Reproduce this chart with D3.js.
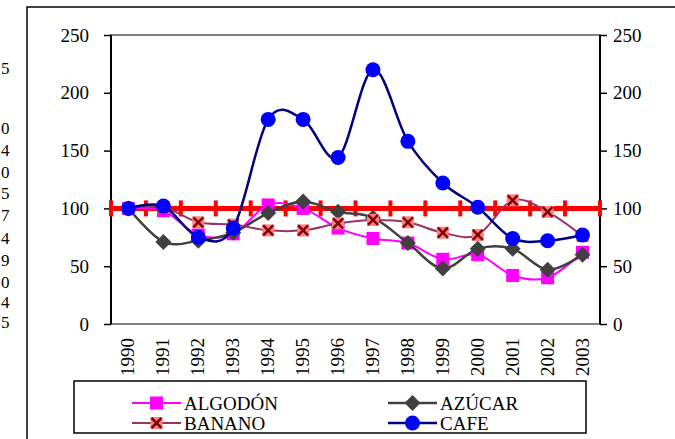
<!DOCTYPE html>
<html>
<head>
<meta charset="utf-8">
<script src="https://cdn.jsdelivr.net/npm/d3@7"></script>
</head>
<body style="margin:0">
<svg id="chart" width="675" height="439"></svg>
<script>
// data
const years = ["1990", "1991", "1992", "1993", "1994", "1995", "1996", "1997", "1998", "1999", "2000", "2001", "2002", "2003"];
const algodon = [100, 98, 77, 78, 103, 100, 83, 74, 70, 56, 60, 42, 40, 62];
const azucar = [100, 71, 72, 79, 96, 106, 97, 92, 70, 48, 65, 65, 47, 60];
const banano = [100, 101, 88, 86, 81, 81, 87, 90, 88, 79, 77, 107, 97, 76];
const cafe = [100, 102, 75, 83, 177, 177, 144, 220, 158, 122, 101, 74, 72, 77];
const baseLine = 100;
const yTicks = [0, 50, 100, 150, 200, 250];
// clipped digits from the neighbouring page at the far left
const leftDigits = ["5", "0", "4", "0", "5", "7", "4", "9", "0", "4", "5"];
const leftDigitY = [68, 128, 150, 172, 193, 215, 238, 260, 282, 302, 322];

const dimensions = {
  width: 675,
  height: 439,
  plot: { left: 111, right: 600, top: 35, bottom: 324 },
};

const svg = d3.select("#chart");

svg.append("rect").attr("width", dimensions.width).attr("height", dimensions.height).attr("fill", "#fff");

// page fragments at the left edge
svg
  .selectAll(".frag")
  .data(leftDigits)
  .enter()
  .append("text")
  .attr("x", 1)
  .attr("y", (d, i) => leftDigitY[i] + 6)
  .attr("font-size", 17)
  .text((d) => d);

// outer frame
svg
  .append("rect")
  .attr("x", 27)
  .attr("y", 7)
  .attr("width", 700)
  .attr("height", 500)
  .attr("fill", "none")
  .attr("stroke", "#000")
  .attr("stroke-width", 1.5);

const p = dimensions.plot;

const xScale = d3.scaleBand().domain(years).range([p.left, p.right]);
const xc = (d) => xScale(d) + xScale.bandwidth() / 2;
const yScale = d3.scaleLinear().domain([0, 250]).range([p.bottom, p.top]);

// plot area top/bottom border
svg
  .append("rect")
  .attr("x", p.left)
  .attr("y", p.top)
  .attr("width", p.right - p.left)
  .attr("height", p.bottom - p.top)
  .attr("fill", "none")
  .attr("stroke", "#808080")
  .attr("stroke-width", 2);

// left axis
const leftAxis = svg
  .append("g")
  .attr("transform", "translate(" + p.left + ",0)")
  .call(d3.axisLeft(yScale).tickValues(yTicks).tickSize(7).tickPadding(15));
// right axis
const rightAxis = svg
  .append("g")
  .attr("transform", "translate(" + p.right + ",0)")
  .call(d3.axisRight(yScale).tickValues(yTicks).tickSize(7).tickPadding(6));

[leftAxis, rightAxis].forEach((ax) => {
  ax.attr("font-family", null).attr("font-size", null);
  ax.select(".domain").attr("stroke", "#000").attr("stroke-width", 2);
  ax.selectAll(".tick line").attr("stroke", "#000").attr("stroke-width", 1.5);
  ax.selectAll("text").attr("fill", "#000").attr("font-size", 19);
});
// plain axis lines without outer ticks
leftAxis.select(".domain").attr("d", "M0," + p.top + "V" + p.bottom);
rightAxis.select(".domain").attr("d", "M0," + p.top + "V" + p.bottom);

// bottom category labels (rotated)
const xAxis = svg
  .append("g")
  .attr("transform", "translate(0," + p.bottom + ")")
  .call(d3.axisBottom(xScale).tickSize(0).tickPadding(0));
xAxis.attr("font-family", null).attr("font-size", null);
xAxis.select(".domain").remove();
xAxis
  .selectAll("text")
  .attr("transform", "translate(6,14)rotate(-90)")
  .attr("y", 0)
  .attr("dy", 0)
  .attr("font-size", 19)
  .attr("text-anchor", "end")
  .attr("fill", "#000");

// red reference line at 100 with dash markers at band edges
svg
  .append("line")
  .attr("x1", p.left)
  .attr("x2", p.right)
  .attr("y1", yScale(baseLine))
  .attr("y2", yScale(baseLine))
  .attr("stroke", "#ff0000")
  .attr("stroke-width", 5);
const edges = years.map((d) => xScale(d)).concat([p.right]);
svg
  .selectAll(".redtick")
  .data(edges)
  .enter()
  .append("line")
  .attr("x1", (d) => d)
  .attr("x2", (d) => d)
  .attr("y1", yScale(baseLine) - 8)
  .attr("y2", yScale(baseLine) + 8)
  .attr("stroke", "#ff0000")
  .attr("stroke-width", 4);

const line = d3
  .line()
  .x((d, i) => xc(years[i]))
  .y((d) => yScale(d))
  .curve(d3.curveCardinal.tension(0));

function drawSeries(values, color, width) {
  svg
    .append("path")
    .datum(values)
    .attr("d", line)
    .attr("fill", "none")
    .attr("stroke", color)
    .attr("stroke-width", width);
}

function squareMarker(g, x, y) {
  g.append("rect")
    .attr("x", x - 6.5)
    .attr("y", y - 6.5)
    .attr("width", 13)
    .attr("height", 13)
    .attr("fill", "#ff00ff");
}
function diamondMarker(g, x, y) {
  g.append("path")
    .attr("d", "M" + x + "," + (y - 8) + "L" + (x + 8) + "," + y + "L" + x + "," + (y + 8) + "L" + (x - 8) + "," + y + "Z")
    .attr("fill", "#404040");
}
function crossMarker(g, x, y) {
  g.append("rect")
    .attr("x", x - 6)
    .attr("y", y - 6)
    .attr("width", 12)
    .attr("height", 12)
    .attr("fill", "#ff8080");
  g.append("path")
    .attr("d", "M" + (x - 5) + "," + (y - 5) + "L" + (x + 5) + "," + (y + 5) + "M" + (x + 5) + "," + (y - 5) + "L" + (x - 5) + "," + (y + 5))
    .attr("stroke", "#800000")
    .attr("stroke-width", 2.5);
}
function circleMarker(g, x, y) {
  g.append("circle").attr("cx", x).attr("cy", y).attr("r", 7.5).attr("fill", "#0000ff");
}

const series = [
  { name: "ALGODÓN", values: algodon, color: "#ff00ff", width: 2, marker: squareMarker },
  { name: "AZÚCAR", values: azucar, color: "#404040", width: 2.5, marker: diamondMarker },
  { name: "BANANO", values: banano, color: "#993366", width: 2, marker: crossMarker },
  { name: "CAFE", values: cafe, color: "#000080", width: 2.5, marker: circleMarker },
];

series.forEach((s) => {
  drawSeries(s.values, s.color, s.width);
  const g = svg.append("g");
  s.values.forEach((v, i) => s.marker(g, xc(years[i]), yScale(v)));
});

// legend
svg
  .append("rect")
  .attr("x", 74)
  .attr("y", 381)
  .attr("width", 512)
  .attr("height", 52)
  .attr("fill", "#fff")
  .attr("stroke", "#000")
  .attr("stroke-width", 1.5);

const legendPos = [
  { x: 132, y: 403 },
  { x: 388, y: 403 },
  { x: 132, y: 423 },
  { x: 388, y: 423 },
];
series.forEach((s, i) => {
  const lp = legendPos[i];
  const g = svg.append("g");
  g.append("line")
    .attr("x1", lp.x)
    .attr("x2", lp.x + 49)
    .attr("y1", lp.y)
    .attr("y2", lp.y)
    .attr("stroke", s.color)
    .attr("stroke-width", s.width);
  s.marker(g, lp.x + 24.5, lp.y);
  g.append("text")
    .attr("x", lp.x + 52)
    .attr("y", lp.y + 7)
    .attr("font-size", 19)
    .text(s.name);
});

// same serif face on every text, set directly on each element
svg
  .selectAll("text")
  .attr("font-family", "Liberation Serif")
  .style("font-family", "'Liberation Serif'");
</script>
</body>
</html>
